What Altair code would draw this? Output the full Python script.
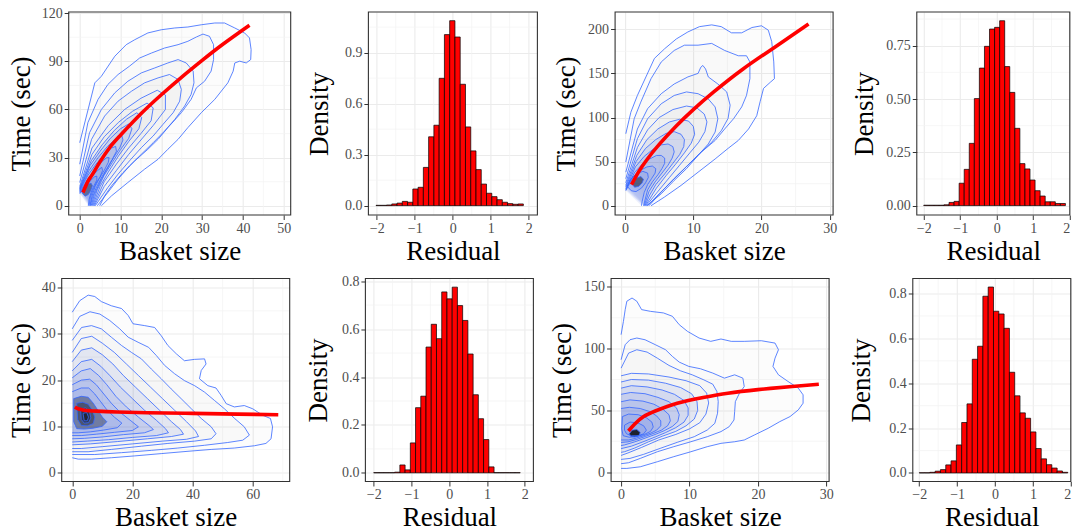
import altair as alt
import pandas as pd

FONT = "Liberation Serif"
BLUE = "#3366FF"
RED = "#FF0000"

# ---------------- panel 1 (top-left): contours, Basket size vs Time ----------------
p1_contours = [
    [(0,39.3),(3.7,76.6),(5.3,80.7),(8.6,93.2),(11.4,100.4),(13.5,103.5),(16.7,107.7),(20,109.7),(23.3,110.8),(26.5,111.4),(29.8,112.8),(33.1,113.9),(35.5,113.9),(38,110.8),(40.4,107.7),(41.6,104.6),(42,97.3),(41.9,91.1),(40.8,89),(39.2,90.1),(38,89),(37.6,83.9),(36.3,76.6),(33.1,66.3),(29.8,58),(26.5,48.7),(24.1,41.4),(21.6,35.2),(19.2,29),(15.9,22.8),(11.8,14.5),(7.8,6.2),(5.3,0)],
    [(0,25.9),(2.0,51.8),(4.5,66.3),(6.9,75.6),(9.4,81.8),(12.2,87),(14.7,92.1),(17.6,95.2),(20.8,98.3),(24.1,100.4),(26.5,102.5),(28.6,105.2),(30.2,107),(31.8,105.6),(32.8,100.4),(32.8,91.1),(32.2,83.9),(30.6,77.6),(28.6,73.5),(27.3,66.3),(24.9,58),(21.6,48.7),(19.2,41.4),(16.7,35.2),(13.5,28),(10.6,20.7),(7.8,12.4),(6.1,6.2),(4.9,0)],
    [(0,18.6),(2.4,45.5),(5.3,60),(8.6,70.4),(11.8,77.6),(15.1,82.8),(18.4,85.9),(21.6,89),(24.1,91.1),(26.1,89),(27.8,83.9),(28,76.6),(27.3,69.4),(25.7,62.1),(23.3,53.8),(20.8,46.6),(18,39.3),(15.1,32.1),(12.2,24.8),(9.4,16.6),(6.9,8.3),(4.3,0)],
    [(0,14.5),(2.9,41.4),(6.1,55.9),(9.4,65.2),(12.7,71.4),(15.9,76.6),(19.2,79.7),(22,81.8),(24.1,78.7),(24.9,72.5),(24.5,65.2),(22.9,58),(20.4,50.7),(18,43.5),(15.1,36.2),(12.2,28),(9.4,19.7),(6.9,11.4),(3.8,0)],
    [(0,12),(3,36),(7,50),(11,60),(15,67),(19,72),(21,69),(21,60),(18,50),(15,41),(12,32),(9,22),(6,12),(3.6,0)],
    [(0,11),(3,32),(6,43),(9.5,52),(13,59),(16.5,64),(18,61),(17.5,53),(15,45),(12,36),(9,26),(6,15),(3.4,0)],
    [(0,10.5),(2.8,28),(5.5,38),(8.5,47),(11.5,54),(14,58),(15.2,55),(14.5,48),(12,40),(9.5,31),(7,21),(5,12),(3.2,0)],
    [(0,10),(2.5,25),(5,34),(7.5,42),(10,48),(12,51),(12.8,48),(12,42),(10,35),(8,27),(6,19),(4.3,10),(3,0)],
    [(0,9.5),(2.3,22),(4.5,30),(6.8,37),(9,42),(10.3,44),(10.6,41),(9.8,36),(8.3,30),(6.5,22),(5,15),(3.6,7),(2.8,0)],
    [(0,9),(2,19),(4,26),(6,32),(7.8,36),(8.8,37),(9,34),(8,29),(6.6,23),(5.2,17),(4,11),(3.1,5),(2.6,0)],
    [(0,8.5),(1.8,16),(3.5,22),(5.2,27),(6.6,30),(7.2,30),(7,27),(6,22),(4.8,17),(3.8,12),(3,6),(2.5,0)],
    [(0,8),(1.6,14),(3,18.5),(4.4,22),(5.4,24),(5.6,22),(5,18),(4,14),(3.2,9.5),(2.6,5),(2.3,0)],
    [(0,7.5),(1.4,12),(2.6,15.5),(3.6,18),(4.2,18.5),(4.2,16),(3.5,12.5),(2.8,8.5),(2.3,4),(2.1,0)],
    [(0.6,8),(1.2,11.5),(2,13.5),(2.8,14),(3.1,12.5),(2.7,9.5),(2.1,7),(1.3,6),(0.6,8)],
]
p1_fit_x = [0.8, 2, 3, 5, 7.5, 10, 15, 20, 25, 30, 35, 41.6]
p1_fit_y = [8.3, 15.2, 19.1, 27.5, 36.8, 44, 57.3, 69.2, 80.2, 90.6, 100.5, 112.5]

# ---------------- panel 3 (top, third): contours ----------------
p3_contours = [
    [(0.1,81.6),(0.84,106),(1.8,125),(3.05,146),(4.3,167),(5.8,178),(7.5,189),(9.2,197),(10.9,203),(12.7,205),(14.1,203),(15.6,196),(17.1,196),(18.6,202),(20,204),(21,199),(21.5,186),(21.8,163),(21.9,144),(21.3,140),(20.3,133),(19.8,118),(19.3,102),(18.1,87),(16.6,74),(15.1,65),(13.2,53),(10.7,38),(8.2,23),(5.8,10),(3.8,0)],
    [(0.1,49.5),(1.33,98.6),(2.3,117.5),(3.8,144),(5.3,163),(7.2,176),(8.7,182),(10.7,182),(12.7,184),(14.6,176),(16.6,170),(17.8,170),(18.3,163),(18.3,144),(17.8,125),(17.1,112),(15.9,98.6),(14.6,87),(13.2,74),(11.2,61),(9.2,46),(7.2,31),(5.3,15.5),(3.5,0)],
    [(0.1,38),(1.8,87),(3.3,110),(5.3,127),(7.2,138),(9.2,146),(10.7,150),(11.1,157),(11.4,159),(11.8,155),(12.2,146),(13.6,138),(14.9,129),(15.4,114),(15.1,99),(14.1,85),(12.7,72),(10.9,59),(8.97,44),(7,29),(5,13.6),(3.3,0)],
    [(0.1,30.6),(1.8,76),(3.3,98.6),(5.3,115.6),(7.2,125),(9,129),(10.7,127),(12.2,121),(13.2,112),(13.6,98.6),(13.2,83.5),(12.2,70),(10.7,57),(9,42),(7.2,28.7),(5.3,13.6),(3.2,0)],
    [(0.1,26),(1.8,66),(3.3,86),(5,100),(7,109),(9,113),(10.5,111),(11.6,104),(12,95),(11.7,84),(10.8,72),(9.5,60),(8,46),(6.5,32),(5,18),(3.1,0)],
    [(0.1,23),(1.7,57),(3.2,75),(4.8,87),(6.5,95),(8,98),(9.3,96),(10,90),(10.2,81),(9.7,71),(8.7,60),(7.4,47),(6,34),(4.6,20),(3,0)],
    [(0.1,21),(1.6,50),(3,65),(4.5,75),(6,82),(7.2,84),(8.2,81),(8.7,75),(8.6,67),(8,58),(7,48),(5.8,36),(4.5,24),(3.6,12),(2.9,0)],
    [(0.1,19),(1.5,44),(2.8,56),(4.1,64),(5.3,69),(6.3,70),(7,67),(7.2,61),(6.9,54),(6.3,46),(5.4,37),(4.4,27),(3.5,16),(2.8,0)],
    [(0.1,18),(1.4,38),(2.5,47),(3.6,53),(4.6,57),(5.3,57),(5.8,54),(5.8,48),(5.4,42),(4.8,35),(4,27),(3.3,18),(2.7,0)],
    [(0.1,17),(1.2,33),(2.2,40),(3.2,44),(4,45),(4.5,42),(4.4,37),(3.9,31),(3.3,24),(2.8,15),(2.5,5),(2.4,0)],
    [(0.3,22),(0.8,30),(1.6,36),(2.6,39),(3.3,37),(3.4,32),(3,26),(2.4,20),(1.6,16),(0.9,17),(0.3,22)],
    [(1.0,25),(1.5,31),(2.3,33),(2.7,30),(2.5,26),(2,22),(1.4,21),(1.0,25)],
]
p3_fit_x = [0.94, 2, 3.3, 5, 7.5, 10, 13, 17.3, 22, 26.9]
p3_fit_y = [24, 38.7, 53.3, 69.5, 90.4, 109, 129, 155, 180, 206]

# ---------------- panel 5 (bottom-left): contours ----------------
p5_contours = [
    [(0,34.7),(2.5,37.2),(5.3,38.4),(7.5,38.1),(9.7,37),(13,36.1),(16.4,35.5),(18.6,34),(20.2,32.2),(24.1,31.8),(27.4,31.4),(29.6,29.6),(31.8,27.5),(34.6,25.7),(37.3,24.2),(40.7,24.5),(44,24.6),(44.5,23.5),(42.9,22.1),(42.3,20.3),(45.1,18.8),(47.8,18.3),(49.5,16.7),(51.2,14.9),(53.9,14.2),(57.2,14.5),(60,13.8),(63.3,12.4),(65.9,11.7),(66.6,9.9),(66.1,7.3),(64.4,6.3),(60.6,5.8),(53.9,5.3),(46.2,5),(38.5,4.6),(29.6,4.1),(20.8,3.6),(13,3.2),(6.4,2.9),(2,2.9),(0,3.2)],
    [(0,31.1),(2.5,33.8),(5.9,34.8),(9.2,34.3),(12.5,32.9),(15.8,31.1),(18.6,29.3),(21.9,28.2),(25.4,27.1),(28,25.3),(30.7,23.2),(34,21.4),(37.3,19.9),(40.7,18.8),(44,17.4),(47.3,15.6),(50.6,13.8),(54,11.7),(57.2,9.9),(58.9,8.1),(56.7,7),(51.7,6.5),(44,5.9),(35.1,5.3),(26.3,4.8),(16.4,4.3),(7.5,3.9),(0,3.9)],
    [(0,28.6),(3.1,31.4),(6.4,31.8),(9.7,31.1),(13,29.3),(16.4,27.5),(19.7,26),(23,24.6),(26.3,22.4),(29.6,20.3),(32.9,18.1),(36.2,16),(39.6,13.8),(42.9,11.7),(46.2,9.9),(47.8,8.4),(46.2,7.3),(40.7,6.8),(31.8,6.3),(23,5.7),(13,5),(5.3,4.5),(0,4.5)],
    [(0,26),(3,29),(6.5,29.5),(10,28),(14,26),(18,23.5),(22,21),(26,18.5),(30,16),(34,13.5),(38,11),(41,9),(42,7.8),(38,7.2),(30,6.8),(20,6.2),(10,5.6),(3,5.2),(0,5.2)],
    [(0,24),(3,26.5),(6.5,27),(10,25.5),(13.5,23.5),(17,21),(21,18.5),(25,16),(29,13.5),(33,11),(36,9.3),(37,8.3),(33,7.8),(25,7.3),(15,6.7),(6,6.2),(0,6)],
    [(0,22),(3,24),(6.5,24.5),(9.5,23),(12.5,21),(16,18.5),(20,16),(24,13.5),(28,11.3),(31,9.5),(32,8.6),(28,8),(20,7.6),(12,7.1),(5,6.8),(0,6.6)],
    [(0,20.5),(3,22),(6,22.5),(8.8,21),(11.5,19),(14.5,16.5),(18,14.2),(22,12),(25.5,10.2),(27,9.3),(24,8.6),(17,8.2),(10,7.7),(4,7.4),(0,7.3)],
    [(0,19),(3,20),(5.8,20.2),(8,19),(10.5,17),(13,15),(16,13),(19.5,11.2),(22,9.9),(20,9.1),(14,8.7),(8,8.3),(3,8),(0,8)],
    [(0,17.5),(3,18.3),(5.5,18.3),(7.5,17),(9.5,15.3),(11.5,13.6),(14,12),(16.5,10.7),(15,9.7),(10.5,9.2),(6,8.8),(2,8.6),(0,8.6)],
    [(0.5,16),(3,16.5),(5.3,16.3),(7,15),(8.5,13.5),(10,12),(11.5,11),(10,10),(7,9.6),(4,9.4),(1.5,9.5),(0.5,11),(0.5,16)],
    [(1.5,15),(3.5,15.2),(5.3,14.8),(6.7,13.5),(7.5,12),(7,10.6),(5,10.1),(3,10.2),(1.8,11.5),(1.5,15)],
    [(2.8,13.7),(4.5,14),(5.8,13),(6.2,11.8),(5.4,10.8),(4,10.7),(3,11.5),(2.8,13.7)],
    [(3.6,12.8),(4.8,13),(5.4,12),(5,11.2),(4,11.2),(3.6,12.8)],
]
p5_fit_x = [0.9, 2, 4, 8, 15, 25, 40, 55, 68.5]
p5_fit_y = [14.2, 13.8, 13.5, 13.3, 13.1, 12.95, 12.8, 12.65, 12.5]

# ---------------- panel 7 (bottom, third): contours ----------------
p7_contours = [
    [(0,111.3),(0.34,122),(0.6,131.6),(0.84,138.4),(1.6,141),(2.3,138.4),(3,131.6),(4.3,130.2),(6.2,128.9),(7.5,126.2),(8.5,119.4),(9.7,114),(11.4,108.6),(13.1,105.9),(14.6,107.8),(16.1,105.9),(18,105.9),(20.5,106.4),(22.5,104.5),(23,99.1),(22.5,92.3),(22.2,85.6),(23,78.8),(24.4,73.4),(25.9,68),(26.6,62.6),(26.6,55.8),(25.9,50.4),(24.7,45),(23.2,40.9),(21.5,35.5),(19.5,30.1),(18,26),(16.6,24.6),(14.6,23.3),(12.6,20.6),(10.2,16.5),(7.7,12.5),(5.3,8.4),(2.8,4.3),(0.84,3),(0,3)],
    [(0,91),(0.6,103.2),(1.3,107.2),(2.3,108.6),(3.5,107.2),(5,103.2),(6.5,99.1),(7.5,93.7),(8.5,89.1),(9.9,85.6),(11.6,83.7),(13.4,80.2),(15.1,76.1),(16.6,78.8),(17.8,76.1),(18,69.3),(17.3,63.9),(16.7,57.1),(16.6,49),(16.5,42.2),(15.8,36.8),(14.6,32.8),(12.6,28.7),(10.2,24.6),(7.7,20.6),(5.3,16.5),(2.8,11.1),(1.1,7.6),(0,6.8)],
    [(0,84.2),(1.1,96.4),(2.3,99.1),(3.8,97.2),(5.3,92.3),(7,86.4),(8.7,82),(10.4,78.8),(12.1,74.7),(13.4,71.2),(14,65.3),(14.2,57.1),(14.1,47.7),(13.7,39.5),(12.6,34.1),(10.7,28.7),(8.2,24.1),(5.7,19.2),(3.3,14.4),(1.3,11.1),(0,10.3)],
    [(0,78),(1.5,80),(4,79.5),(7,77),(9.5,74),(11.5,70),(12.5,64),(12.8,56),(12.4,47),(11.5,40),(10,35),(8,30.5),(5.5,26),(3,20),(1,15.5),(0,13.5)],
    [(0,73),(1.5,75),(4,74.5),(6.5,72),(8.7,68.5),(10.3,63.5),(11.1,57),(11.2,50),(10.7,43),(9.5,37.5),(8,33),(6,29),(4,24.5),(2,19.5),(0.5,16.5),(0,16)],
    [(0,68),(1.5,70),(3.8,69),(6,66.5),(7.8,63),(9.2,58),(9.8,52),(9.8,46),(9.2,40.5),(8,36),(6.5,32),(5,28.5),(3.2,24.5),(1.5,21),(0,19)],
    [(0,63),(1.4,64.5),(3.5,63.5),(5.4,60.5),(7,57),(8.1,52),(8.5,46.5),(8.3,41),(7.5,37),(6.3,33.5),(5,30.5),(3.5,27.5),(2,24.5),(0.5,22),(0,21.5)],
    [(0,57),(1.3,58.5),(3.2,57.5),(4.8,55),(6.1,51),(7,46.5),(7.2,41.5),(6.8,37.5),(5.9,34),(4.8,31.5),(3.6,29),(2.3,26.5),(1,24.5),(0,24)],
    [(0,51.5),(1.2,52.5),(2.8,51.5),(4.2,49),(5.2,45.5),(5.8,41.5),(5.8,37.5),(5.2,34),(4.3,31.5),(3.3,29.5),(2.2,27.5),(1.1,26),(0,26)],
    [(0.2,45),(1.1,47),(2.5,46.5),(3.7,44),(4.5,40.5),(4.7,36.5),(4.3,33),(3.4,30.5),(2.3,28.8),(1.2,28.2),(0.3,29.5),(0.1,35),(0.2,45)],
    [(0.5,38),(1.3,40.5),(2.4,40),(3.3,37.5),(3.7,34),(3.3,31),(2.5,29.6),(1.5,29.5),(0.8,31),(0.5,34),(0.5,38)],
    [(1.2,31),(1.6,34),(2.3,34.5),(2.8,32),(2.6,29.5),(2,28.5),(1.4,29),(1.2,31)],
]
p7_fit_x = [1.08, 2, 3.3, 5, 8.2, 12, 15.6, 20, 25, 28.9]
p7_fit_y = [33.3, 39, 45, 49.5, 55.8, 60.5, 63.9, 66.8, 69.4, 71.2]

# ---------------- residual histograms (density per bin) ----------------
p2_hist = [0.002,0.002,0.004,0.01,0.015,0.025,0.02,0.098,0.108,0.225,0.405,0.473,0.749,1.006,1.088,0.992,0.714,0.463,0.322,0.212,0.127,0.073,0.053,0.035,0.02,0.012,0.008,0.01]
p4_hist = [0.002,0.002,0.002,0.002,0.004,0.015,0.02,0.105,0.17,0.292,0.502,0.645,0.747,0.828,0.836,0.867,0.652,0.531,0.3625,0.197,0.172,0.12,0.07,0.045,0.018,0.018,0.01,0.01]
p6_hist = [0.001,0.001,0.001,0.001,0.003,0.033,0.0125,0.125,0.272,0.32,0.525,0.62,0.56,0.755,0.726,0.775,0.698,0.636,0.496,0.326,0.226,0.139,0.025,0.001,0.001,0.001,0.001,0.001]
p8_hist = [0.001,0.001,0.003,0.008,0.015,0.036,0.054,0.125,0.225,0.308,0.507,0.565,0.788,0.829,0.721,0.709,0.645,0.449,0.344,0.268,0.244,0.183,0.109,0.063,0.037,0.022,0.009,0.003]
hist_start = [-2.02, -2.0, -2.0, -2.0]
hist_binwidth = [0.1386, 0.1386, 0.1386, 0.14]


def contour_frame(contours):
    rows = []
    for cid, pts in enumerate(contours):
        for k, (x, y) in enumerate(pts):
            rows.append({"cid": cid, "ord": k, "x": x, "y": y})
    return pd.DataFrame(rows)


def axes(xdom, ydom, xticks, yticks, xtitle, ytitle, title_x, h, xfmt, yfmt):
    xs = alt.Scale(domain=xdom, nice=False, zero=False)
    ys = alt.Scale(domain=ydom, nice=False, zero=False)
    xa = alt.Axis(values=xticks, title=xtitle, format=xfmt, titleY=44,
                  titleBaseline="alphabetic", titleAlign="center")
    ya = alt.Axis(values=yticks, title=ytitle, format=yfmt, titleX=title_x,
                  titleY=h / 2, titleAngle=270, titleBaseline="alphabetic",
                  titleAlign="center")

    def X(f):
        return alt.X(f, type="quantitative", scale=xs, axis=xa)

    def Y(f):
        return alt.Y(f, type="quantitative", scale=ys, axis=ya)
    return X, Y


def frame_layer(w, h):
    return alt.Chart(pd.DataFrame({"f": [0]})).mark_rect(
        fill="transparent", stroke="#333333", strokeWidth=1.1
    ).encode(x=alt.value(0), x2=alt.value(w), y=alt.value(0), y2=alt.value(h))


def minor_layers(X, Y, xminor, yminor):
    mx = alt.Chart(pd.DataFrame({"x": xminor})).mark_rule(
        color="#F2F2F2", strokeWidth=0.7).encode(x=X("x"))
    my = alt.Chart(pd.DataFrame({"y": yminor})).mark_rule(
        color="#F2F2F2", strokeWidth=0.7).encode(y=Y("y"))
    return [mx, my]


def contour_panel(contours, fit_x, fit_y, xdom, ydom, xticks, yticks,
                  xminor, yminor, w, h, title_x, core, core_opacity, n_blue):
    X, Y = axes(xdom, ydom, xticks, yticks, "Basket size", "Time (sec)",
                title_x, h, "d", "d")
    df = contour_frame(contours)
    enc = dict(x=X("x"), y=Y("y"), detail="cid:N", order="ord:Q")
    shade = alt.Chart(df).mark_line(
        fill="#000000", fillOpacity=0.012, strokeOpacity=0, clip=True
    ).encode(**enc)
    blue_df = df[df["cid"] >= len(contours) - n_blue]
    blue = alt.Chart(blue_df).mark_line(
        fill=BLUE, fillOpacity=0.07, strokeOpacity=0, clip=True
    ).encode(**enc)
    core_df = df[df["cid"] >= len(contours) - core]
    dark = alt.Chart(core_df).mark_line(
        fill="#000000", fillOpacity=core_opacity, strokeOpacity=0, clip=True
    ).encode(**enc)
    lines = alt.Chart(df).mark_line(
        color=BLUE, strokeWidth=0.8, clip=True
    ).encode(**enc)
    fit = alt.Chart(pd.DataFrame({"x": fit_x, "y": fit_y})).mark_line(
        color=RED, strokeWidth=3.6, interpolate="natural", clip=True
    ).encode(x=X("x"), y=Y("y"))
    return alt.layer(*minor_layers(X, Y, xminor, yminor), shade, blue, dark,
                     lines, fit, frame_layer(w, h)).properties(width=w, height=h)


def hist_panel(heights, start, bw, xdom, ydom, yticks, yminor, yfmt, w, h, title_x):
    X, Y = axes(xdom, ydom, [-2, -1, 0, 1, 2], yticks, "Residual", "Density",
                title_x, h, "d", yfmt)
    df = pd.DataFrame({
        "x0": [start + k * bw for k in range(len(heights))],
        "x1": [start + (k + 1) * bw for k in range(len(heights))],
        "h": heights,
    })
    bars = alt.Chart(df).mark_rect(
        fill=RED, stroke="#000000", strokeWidth=0.7
    ).encode(x=X("x0"), x2="x1", y=Y("h"), y2=alt.datum(0))
    return alt.layer(*minor_layers(X, Y, [-1.5, -0.5, 0.5, 1.5], yminor), bars,
                     frame_layer(w, h)).properties(width=w, height=h)


def spacer():
    return alt.Chart(pd.DataFrame({"a": [0]})).mark_point(opacity=0).encode(
        x=alt.value(0), y=alt.value(0)).properties(width=1, height=1)


H = 203
p1 = contour_panel(p1_contours, p1_fit_x, p1_fit_y, [-2.7, 51.7], [-5.75, 120.75],
                   [0, 10, 20, 30, 40, 50], [0, 30, 60, 90, 120],
                   [5, 15, 25, 35, 45], [15, 45, 75, 105], 222, H, -39, 1, 0.35, 8)
p2 = hist_panel(p2_hist, hist_start[0], hist_binwidth[0], [-2.22, 2.23], [-0.055, 1.139],
                [0.0, 0.3, 0.6, 0.9], [0.15, 0.45, 0.75, 1.05], ".1f", 169, H, -41)
p3 = contour_panel(p3_contours, p3_fit_x, p3_fit_y, [-1.47, 30.5], [-10.5, 219.6],
                   [0, 10, 20, 30], [0, 50, 100, 150, 200],
                   [5, 15, 25], [25, 75, 125, 175], 218, H, -41, 1, 0.45, 7)
p4 = hist_panel(p4_hist, hist_start[1], hist_binwidth[1], [-2.19, 2.0], [-0.044, 0.908],
                [0.0, 0.25, 0.5, 0.75], [0.125, 0.375, 0.625, 0.875], ".2f", 153, H, -44)
p5 = contour_panel(p5_contours, p5_fit_x, p5_fit_y, [-3.5, 72.3], [-1.94, 42.0],
                   [0, 20, 40, 60], [0, 10, 20, 30, 40],
                   [10, 30, 50, 70], [5, 15, 25, 35], 228, H, -32, 4, 0.3, 9)
p6 = hist_panel(p6_hist, hist_start[2], hist_binwidth[2], [-2.22, 2.23], [-0.036, 0.811],
                [0.0, 0.2, 0.4, 0.6, 0.8], [0.1, 0.3, 0.5, 0.7], ".1f", 168, H, -39)
p7 = contour_panel(p7_contours, p7_fit_x, p7_fit_y, [-1.46, 30.4], [-7.6, 156.8],
                   [0, 10, 20, 30], [0, 50, 100, 150],
                   [5, 15, 25], [25, 75, 125], 218, H, -41, 1, 0.8, 8)
p8 = hist_panel(p8_hist, hist_start[3], hist_binwidth[3], [-2.17, 2.0], [-0.038, 0.867],
                [0.0, 0.2, 0.4, 0.6, 0.8], [0.1, 0.3, 0.5, 0.7], ".1f", 158, H, -43)

row1 = alt.hconcat(spacer(), alt.hconcat(p1, p2, p3, p4, spacing=13.7), spacing=0)
row2 = alt.hconcat(spacer(), alt.hconcat(p5, p6, p7, p8, spacing=13.7), spacing=0)

chart = alt.vconcat(row1, row2, spacing=9.5).properties(
    padding={"left": 1.7, "top": 6, "right": 0, "bottom": 0},
    background="white",
).configure_view(
    strokeWidth=0
).configure_axis(
    labelFont=FONT, labelFontSize=14, labelColor="#4D4D4D",
    tickColor="#333333", tickSize=4.5, tickWidth=1, labelPadding=2,
    domain=False, grid=True, gridColor="#EBEBEB", gridWidth=1.1,
    titleFont=FONT, titleFontSize=27, titleFontWeight="normal", titleColor="#000000",
)

chart.save("out.html", embed_options={"renderer": "svg", "actions": False})
